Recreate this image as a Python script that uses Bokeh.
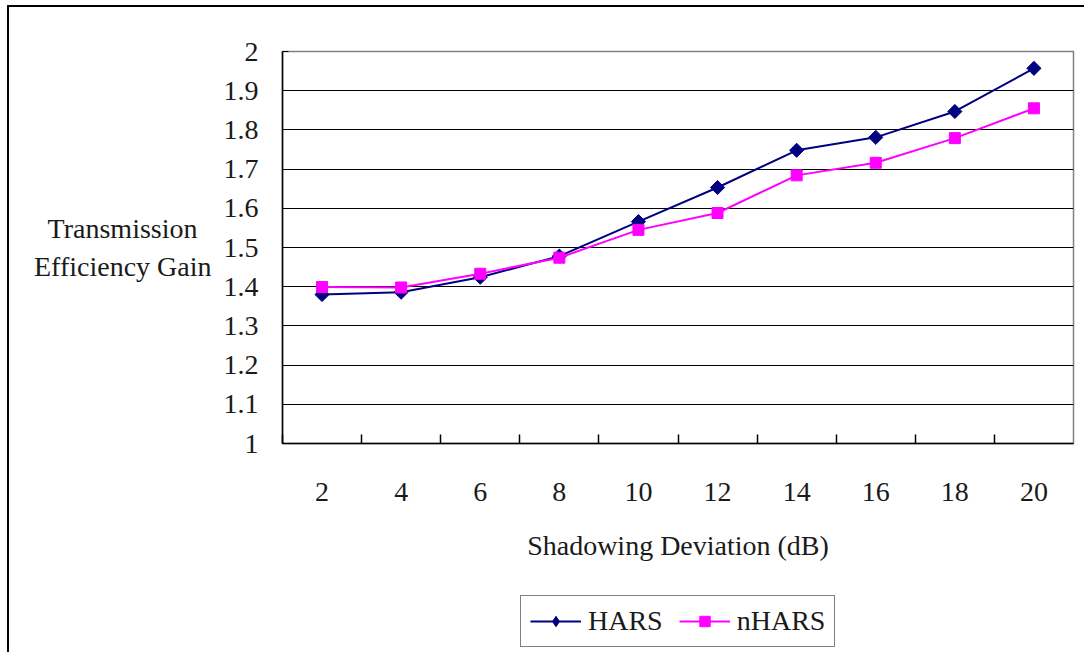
import math
from bokeh.plotting import figure
from bokeh.layouts import column
from bokeh.models import FixedTicker, Legend, LegendItem, Range1d
from bokeh.embed import file_html
from bokeh.resources import INLINE

# Shadowing deviation (dB) categories and the gain for each scheme
deviation = [2, 4, 6, 8, 10, 12, 14, 16, 18, 20]
hars = [1.380, 1.386, 1.424, 1.478, 1.566, 1.653, 1.748, 1.781, 1.847, 1.957]
nhars = [1.399, 1.398, 1.433, 1.474, 1.545, 1.588, 1.684, 1.716, 1.779, 1.855]
y_ticks = [1.0, 1.1, 1.2, 1.3, 1.4, 1.5, 1.6, 1.7, 1.8, 1.9, 2.0]
y_tick_labels = {1.0: "1", 1.1: "1.1", 1.2: "1.2", 1.3: "1.3", 1.4: "1.4",
                 1.5: "1.5", 1.6: "1.6", 1.7: "1.7", 1.8: "1.8", 1.9: "1.9",
                 2.0: "2"}

FONT = "Liberation Serif"
FS = "28px"
INK = "#1a1a1a"
HARS_COLOR = "#000080"
NHARS_COLOR = "#FF00FF"

W = 1075
H_MAIN = 580
H_LEG = 65
LEFT = 273
RIGHT = 11

p = figure(width=W, height=H_MAIN, output_backend="svg", toolbar_location=None,
           x_range=Range1d(1, 21), y_range=Range1d(1, 2),
           min_border_left=LEFT, min_border_top=44, min_border_right=RIGHT,
           min_border_bottom=H_MAIN - 436)
p.background_fill_color = "white"
p.border_fill_color = "white"
p.outline_line_color = "#808080"
p.outline_line_width = 1.5

# x axis: labels at category centres, tick marks between categories
xa = p.xaxis[0]
xa.ticker = FixedTicker(ticks=deviation,
                        minor_ticks=[d + 1 for d in deviation[:-1]] + [1])
xa.major_tick_line_color = None
xa.minor_tick_line_color = "black"
xa.minor_tick_line_width = 1.5
xa.minor_tick_in = 9
xa.minor_tick_out = 0
xa.axis_line_color = "black"
xa.axis_line_width = 1.5
xa.major_label_text_font = FONT
xa.major_label_text_font_size = FS
xa.major_label_text_color = INK
xa.major_label_standoff = 33
xa.axis_label = "Shadowing Deviation (dB)"
xa.axis_label_text_font = FONT
xa.axis_label_text_font_size = FS
xa.axis_label_text_font_style = "normal"
xa.axis_label_text_color = INK
xa.axis_label_standoff = 26

ya = p.yaxis[0]
ya.ticker = FixedTicker(ticks=y_ticks)
ya.major_label_overrides = y_tick_labels
ya.major_tick_in = 6
ya.major_tick_out = 0
ya.major_tick_line_color = "black"
ya.minor_tick_line_color = None
ya.axis_line_color = "black"
ya.axis_line_width = 1.5
ya.major_label_text_font = FONT
ya.major_label_text_font_size = FS
ya.major_label_text_color = INK
ya.major_label_standoff = 24
ya.axis_label = "Transmission\u00a0\u00a0\nEfficiency Gain"
ya.axis_label_text_font = FONT
ya.axis_label_text_font_size = FS
ya.axis_label_text_font_style = "normal"
ya.axis_label_text_color = INK
ya.axis_label_standoff = 9
if "axis_label_orientation" in ya.properties():
    ya.axis_label_orientation = "horizontal"

p.xgrid.grid_line_color = None
p.ygrid.ticker = FixedTicker(ticks=y_ticks)
p.ygrid.grid_line_color = "black"
p.ygrid.grid_line_width = 1.2

p.line(deviation, hars, line_color=HARS_COLOR, line_width=2)
p.scatter(deviation, hars, marker="square", size=10, angle=math.pi / 4,
          fill_color=HARS_COLOR, line_color=HARS_COLOR)
p.line(deviation, nhars, line_color=NHARS_COLOR, line_width=2)
p.scatter(deviation, nhars, marker="square", size=11,
          fill_color=NHARS_COLOR, line_color=NHARS_COLOR)

# legend strip under the chart; its key glyphs fall outside this strip's
# own (0..1) ranges, so only the legend itself is visible here
lf = figure(width=W, height=H_LEG, output_backend="svg", toolbar_location=None,
            x_range=Range1d(0, 1), y_range=Range1d(0, 1),
            min_border_left=LEFT, min_border_right=RIGHT,
            min_border_top=0, min_border_bottom=0)
lf.axis.visible = False
lf.grid.visible = False
lf.outline_line_color = None
lf.background_fill_color = "white"
lf.border_fill_color = "white"

kl1 = lf.line(deviation, hars, line_color=HARS_COLOR, line_width=2)
km1 = lf.scatter(deviation, hars, marker="diamond", size=16,
                 fill_color=HARS_COLOR, line_color=HARS_COLOR)
kl2 = lf.line(deviation, nhars, line_color=NHARS_COLOR, line_width=2)
km2 = lf.scatter(deviation, nhars, marker="square", size=11,
                 fill_color=NHARS_COLOR, line_color=NHARS_COLOR)

legend = Legend(items=[LegendItem(label="HARS", renderers=[kl1, km1]),
                       LegendItem(label="nHARS", renderers=[kl2, km2])],
                orientation="horizontal", location=(520 - 9 - LEFT, 5),
                label_text_font=FONT, label_text_font_size=FS,
                label_text_color=INK,
                glyph_width=51, glyph_height=26, label_standoff=7,
                spacing=16, padding=9, margin=0,
                border_line_color="black", border_line_width=1.5,
                background_fill_color="white", background_fill_alpha=1)
lf.add_layout(legend, "center")

layout = column(p, lf, spacing=0)
# chart-area border on the page (left and top edges)
layout.styles = {"margin-left": "7px", "margin-top": "5px",
                 "border-left": "2px solid black",
                 "border-top": "2px solid black"}

open("out.html", "w").write(file_html(layout, INLINE))
